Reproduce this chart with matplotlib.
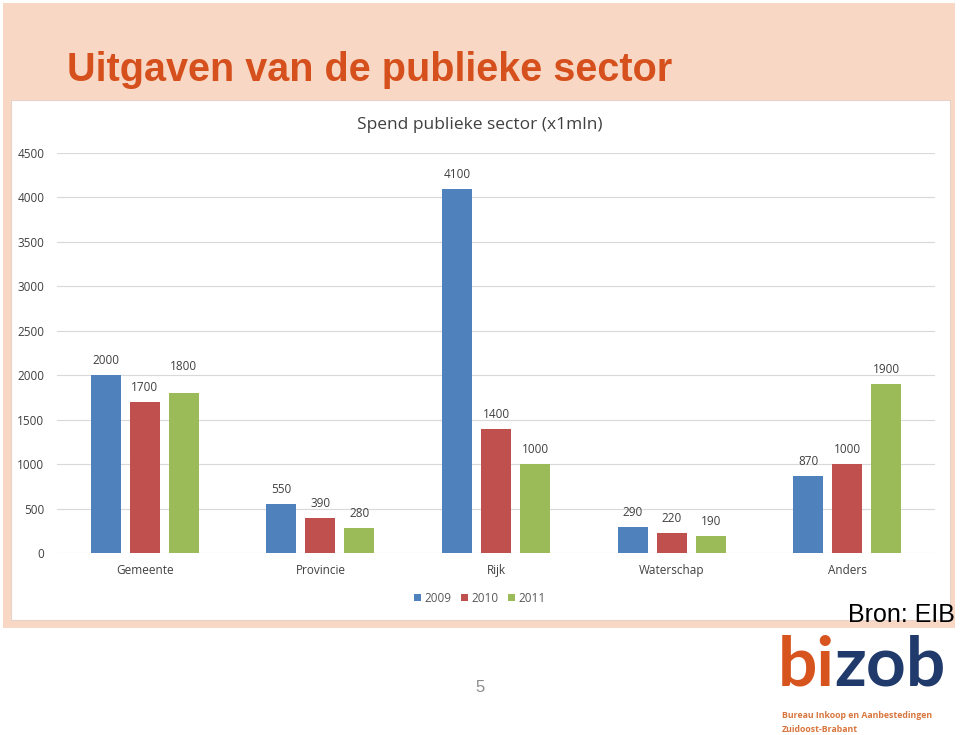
import numpy as np
import matplotlib.pyplot as plt
from matplotlib.patches import Rectangle

categories = ['Gemeente', 'Provincie', 'Rijk', 'Waterschap', 'Anders']
years = ['2009', '2010', '2011']
v2009 = [2000, 550, 4100, 290, 870]
v2010 = [1700, 390, 1400, 220, 1000]
v2011 = [1800, 280, 1000, 190, 1900]
series = [v2009, v2010, v2011]
colors = ['#4F81BD', '#C0504D', '#9BBB59']

W, H = 960, 735
fig = plt.figure(figsize=(9.6, 7.35), dpi=100)
fig.patch.set_facecolor('white')

def fx(px):
    return px / W

def fy(py):
    return 1 - py / H

# peach slide band and white chart box
fig.patches.append(Rectangle((fx(3), fy(628)), fx(952), 625 / H,
                             transform=fig.transFigure, facecolor='#F8D8C5',
                             edgecolor='none', zorder=0))
fig.patches.append(Rectangle((fx(11), fy(620)), fx(939), 520 / H,
                             transform=fig.transFigure, facecolor='white',
                             edgecolor='#E6D2C8', lw=0.8, zorder=1))

fig.text(fx(67), fy(70), 'Uitgaven van de publieke sector', color='#D5501C',
         fontsize=28.5, fontweight='bold', family='Liberation Sans',
         va='center', ha='left')

ax = fig.add_axes([fx(57), fy(553), fx(935 - 57), (553 - 153) / H])
ax.set_zorder(2)
ax.patch.set_alpha(0)

x = np.arange(len(categories))
bw = 0.171
step = 0.222
for i, (vals, c, yr) in enumerate(zip(series, colors, years)):
    pos = x + (i - 1) * step
    ax.bar(pos, vals, width=bw, color=c, label=yr, zorder=3)
    for j, (p, v) in enumerate(zip(pos, vals)):
        off = 90
        if i == 2 and j == 0:
            off = 230   # this label sits higher in the original
        ax.text(p, v + off, str(v), ha='center', va='bottom', fontsize=8.5,
                color='#404040', family='Open Sans')

ax.set_xlim(-0.5, len(categories) - 0.5)
ax.set_ylim(0, 4500)
ax.set_yticks(np.arange(0, 4501, 500))
ax.set_xticks(x)
ax.set_xticklabels(categories, family='Open Sans', fontsize=8.5, color='#404040')
for lab in ax.get_yticklabels():
    lab.set_family('Open Sans')
    lab.set_fontsize(8.5)
    lab.set_color('#404040')
ax.tick_params(length=0, pad=9)
ax.tick_params(axis='x', pad=8)
ax.grid(axis='y', color='#D9D9D9', lw=0.8, zorder=0)
for s in ax.spines.values():
    s.set_visible(False)

fig.text(0.5, fy(125), 'Spend publieke sector (x1mln)', ha='center', va='center',
         fontsize=12.5, color='#404040', family='Open Sans', zorder=3)

leg = fig.legend(loc='center', bbox_to_anchor=(fx(480), fy(598)), ncol=3,
                 frameon=False, handlelength=0.6, handleheight=0.6,
                 handletextpad=0.3, columnspacing=0.8,
                 prop={'family': 'Open Sans', 'size': 8.5})
for t in leg.get_texts():
    t.set_color('#595959')

fig.text(fx(955), fy(615), 'Bron: EIB', ha='right', va='center', fontsize=18,
         family='Liberation Sans', color='black', zorder=4)

fig.text(fx(480), fy(687), '5', ha='center', va='center', fontsize=12,
         family='Liberation Sans', color='#8C8C8C')

# logo text
fig.text(fx(778), fy(666), 'bi', ha='left', va='center', fontsize=50,
         fontweight='bold', family='Lato', color='#D8541E')
fig.text(fx(834), fy(666), 'zob', ha='left', va='center', fontsize=50,
         fontweight='bold', family='Lato', color='#1F3A6B')
fig.text(fx(782), fy(716), 'Bureau Inkoop en Aanbestedingen', ha='left',
         va='center', fontsize=6.3, fontweight='bold', family='Open Sans',
         color='#D8763E')
fig.text(fx(782), fy(729), 'Zuidoost-Brabant', ha='left', va='center',
         fontsize=6.3, fontweight='bold', family='Open Sans', color='#D8763E')

fig.savefig('out.png', dpi=100)
